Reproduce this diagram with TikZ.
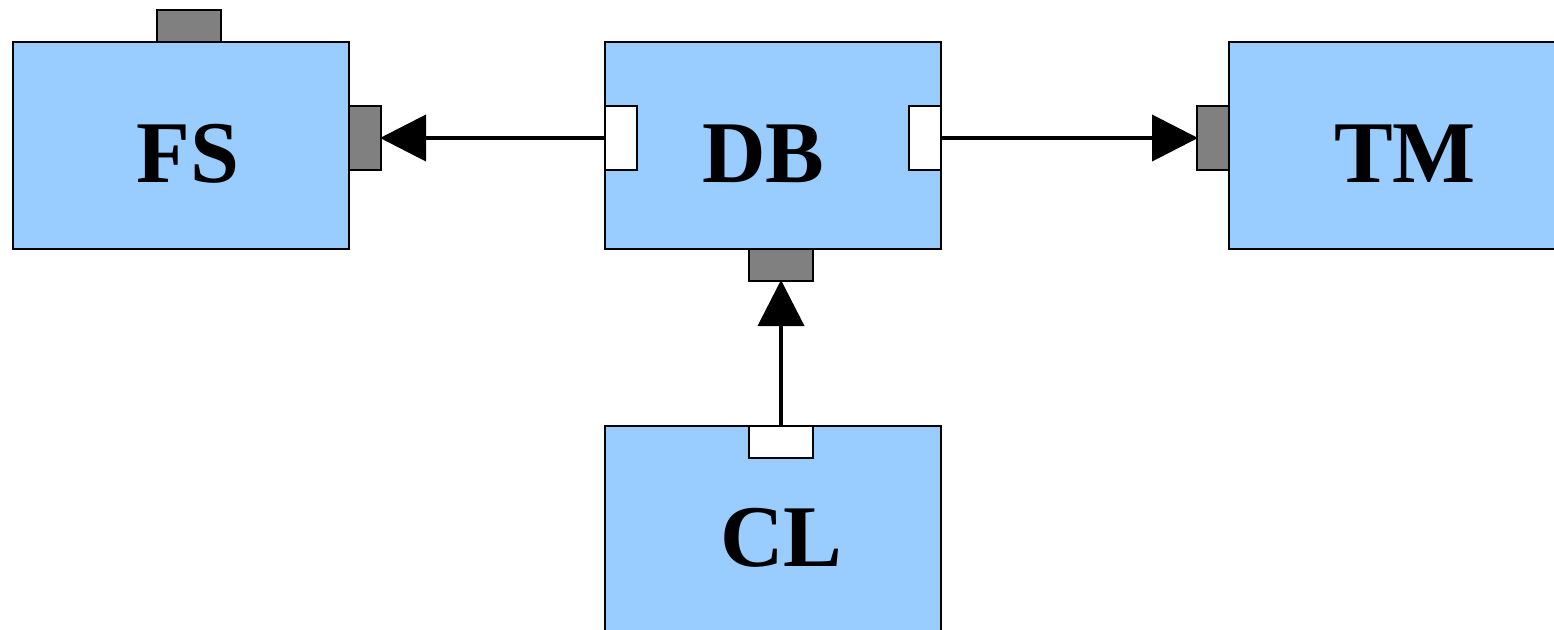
\documentclass[tikz,border=0pt]{standalone}
\usepackage{fontspec}
\setmainfont{Liberation Serif}
\usetikzlibrary{arrows.meta}
\definecolor{boxblue}{HTML}{99CCFF}
\definecolor{portgray}{HTML}{808080}
\begin{document}
\begin{tikzpicture}[x=1pt,y=-1pt,
  comp/.style={draw=black,line width=2pt,fill=boxblue},
  gport/.style={draw=black,line width=2pt,fill=portgray},
  wport/.style={draw=black,line width=2pt,fill=white},
  lbl/.style={font=\fontsize{88}{88}\selectfont\bfseries,anchor=base,inner sep=0pt},
  conn/.style={line width=4pt,-{Triangle[length=46pt,width=46pt]},shorten >=-1pt}]
\useasboundingbox (0,0) rectangle (1554,629);
\begin{scope}
\clip (0,0) rectangle (1554,629);
% components
\draw[comp] (13,42) rectangle (349,249);
\draw[comp] (605,42) rectangle (941,249);
\draw[comp] (1229,42) rectangle (1565,249);
\draw[comp] (605,426) rectangle (941,640);
\end{scope}
% ports
\draw[gport] (157,10) rectangle (221,42);
\draw[gport] (349,106) rectangle (381,170);
\draw[wport] (605,106) rectangle (637,170);
\draw[wport] (909,106) rectangle (941,170);
\draw[gport] (749,249) rectangle (813,281);
\draw[gport] (1197,106) rectangle (1229,170);
\draw[wport] (749,426) rectangle (813,458);
% named port anchors
\coordinate (fsin) at (381,138);
\coordinate (dbl) at (605,138);
\coordinate (dbr) at (941,138);
\coordinate (tmin) at (1197,138);
\coordinate (dbin) at (781,281);
\coordinate (clout) at (781,426);
% labels
\node[lbl] (fs) at (188,182) {FS};
\node[lbl] (db) at (763.5,182) {DB};
\node[lbl] (tm) at (1405,182) {TM};
\node[lbl] (cl) at (781.5,566) {CL};
% connectors
\draw[conn] (dbl) -- (fsin);
\draw[conn] (dbr) -- (tmin);
\draw[conn] (clout) -- (dbin);
\end{tikzpicture}
\end{document}
